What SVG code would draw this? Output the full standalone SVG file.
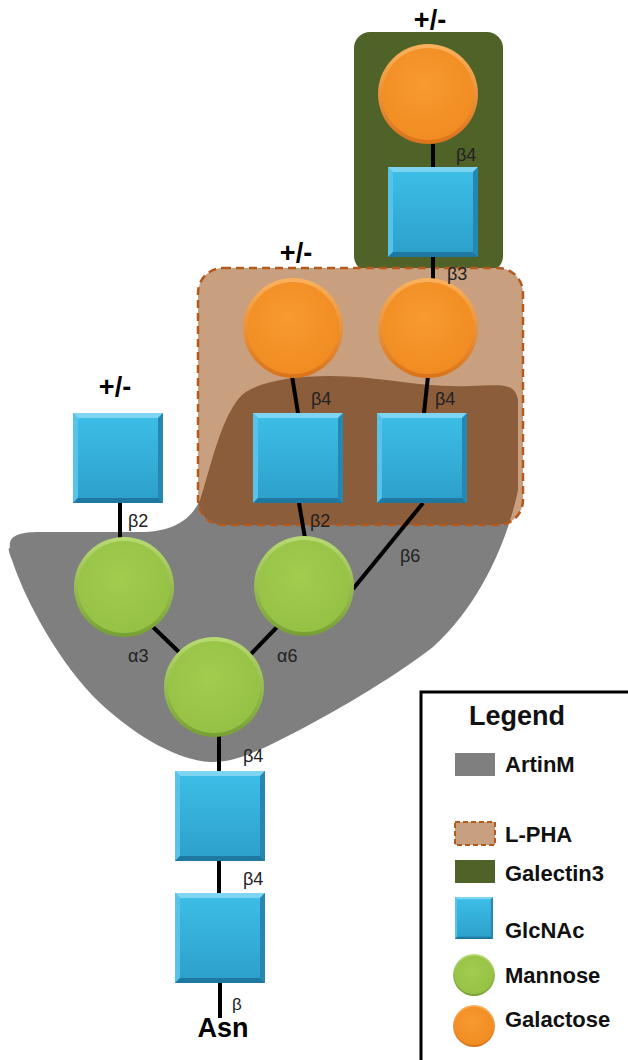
<svg xmlns="http://www.w3.org/2000/svg" xmlns:xlink="http://www.w3.org/1999/xlink" width="628" height="1060" viewBox="0 0 628 1060">
<style>
.lbl{font-family:"Liberation Sans",Arial,sans-serif;font-size:18px;fill:#222}
.pm{font-family:"Liberation Sans",Arial,sans-serif;font-size:27px;font-weight:bold;fill:#000;text-anchor:middle}
.leg{font-family:"Liberation Sans",Arial,sans-serif;font-size:22px;font-weight:bold;fill:#111}
.bond{stroke:#000;stroke-width:4;fill:none}
</style>
<defs>
<linearGradient id="gBlue" x1="0" y1="0" x2="0" y2="1">
<stop offset="0" stop-color="#3DBFE8"/><stop offset="1" stop-color="#2C9FCA"/>
</linearGradient>
<radialGradient id="gOr" cx="0.45" cy="0.4" r="0.6">
<stop offset="0" stop-color="#F89A30"/><stop offset="1" stop-color="#F08C22"/>
</radialGradient>
<linearGradient id="gOrRim" x1="0" y1="0" x2="0" y2="1">
<stop offset="0" stop-color="#FBB15C"/><stop offset="1" stop-color="#D9731A"/>
</linearGradient>
<radialGradient id="gGr" cx="0.45" cy="0.4" r="0.6">
<stop offset="0" stop-color="#A1CC4E"/><stop offset="1" stop-color="#95C145"/>
</radialGradient>
<linearGradient id="gGrRim" x1="0" y1="0" x2="0" y2="1">
<stop offset="0" stop-color="#B8DA72"/><stop offset="1" stop-color="#76A033"/>
</linearGradient>
<g id="sq">
<rect x="0" y="0" width="90" height="90" fill="url(#gBlue)"/>
<polygon points="0,0 90,0 85,5 5,5" fill="#7DD5F2"/>
<polygon points="0,0 5,5 5,85 0,90" fill="#56C4EA"/>
<polygon points="90,0 90,90 85,85 85,5" fill="#2587B2"/>
<polygon points="0,90 90,90 85,85 5,85" fill="#1E78A2"/>
</g>
<g id="gal">
<circle r="50" fill="url(#gOrRim)"/>
<circle r="46" fill="url(#gOr)"/>
</g>
<g id="man">
<circle r="50" fill="url(#gGrRim)"/>
<circle r="46" fill="url(#gGr)"/>
</g>
<path id="artinPath" d="M10,548 C8,535 20,532 40,532 L140,532 C170,532 190,522 200,500 C210,470 220,420 240,397 C255,382 290,376 330,376 C380,376 420,388 470,386 C500,385 515,382 518,400 L518,490 C510,530 485,600 433,647 C390,680 330,715 280,740 C250,755 230,763 210,762 C180,760 140,740 100,703 C60,665 25,600 12,560 C8,550 8,548 10,548 Z"/>
<clipPath id="lphaClip"><rect x="198" y="268" width="325" height="257" rx="25"/></clipPath>
</defs>

<g id="artinm">
<use xlink:href="#artinPath" fill="#7F7F7F"/>
</g>

<g id="galectin3">
<rect x="354" y="32" width="149" height="240" rx="16" fill="#4F6228"/>
</g>

<g id="lpha">
<rect x="198" y="268" width="325" height="257" rx="25" fill="#C8A07F"/>
<use xlink:href="#artinPath" fill="#8C5D3B" clip-path="url(#lphaClip)"/>
<rect x="198" y="268" width="325" height="257" rx="25" fill="none" stroke="#B35A1F" stroke-width="2.5" stroke-dasharray="8,5"/>
</g>

<g id="connectors">
<line class="bond" x1="433" y1="144" x2="433" y2="167"/>
<line class="bond" x1="433" y1="257" x2="433" y2="280"/>
<line class="bond" x1="292" y1="376" x2="298" y2="413"/>
<line class="bond" x1="428" y1="376" x2="424" y2="413"/>
<line class="bond" x1="120" y1="503" x2="120" y2="539"/>
<line class="bond" x1="299" y1="503" x2="305" y2="538"/>
<line class="bond" x1="423" y1="503" x2="353" y2="589" stroke-width="3.5"/>
<line class="bond" x1="153" y1="627" x2="181" y2="654"/>
<line class="bond" x1="277" y1="627" x2="251" y2="654"/>
<line class="bond" x1="219" y1="735" x2="219" y2="771"/>
<line class="bond" x1="219" y1="860" x2="219" y2="893"/>
<line class="bond" x1="220" y1="983" x2="220" y2="1018"/>
</g>

<g id="node-gal-top"><use xlink:href="#gal" transform="translate(428,94)"/></g>
<g id="node-glc-top"><use xlink:href="#sq" transform="translate(388,167)"/></g>
<g id="node-gal-left"><use xlink:href="#gal" transform="translate(293,328)"/></g>
<g id="node-gal-right"><use xlink:href="#gal" transform="translate(428,328)"/></g>
<g id="node-glc-left"><use xlink:href="#sq" transform="translate(253,413)"/></g>
<g id="node-glc-right"><use xlink:href="#sq" transform="translate(377,413)"/></g>
<g id="node-glc-far"><use xlink:href="#sq" transform="translate(73,413)"/></g>
<g id="node-man-left"><use xlink:href="#man" transform="translate(124,587)"/></g>
<g id="node-man-right"><use xlink:href="#man" transform="translate(304,586)"/></g>
<g id="node-man-core"><use xlink:href="#man" transform="translate(214,687)"/></g>
<g id="node-glc-core1"><use xlink:href="#sq" transform="translate(175,771)"/></g>
<g id="node-glc-core2"><use xlink:href="#sq" transform="translate(175,893)"/></g>

<g id="labels">
<text class="pm" x="430" y="29">+/-</text>
<text class="pm" x="296" y="262">+/-</text>
<text class="pm" x="115" y="396">+/-</text>
<text class="lbl" x="456" y="161">β4</text>
<text class="lbl" x="447" y="280">β3</text>
<text class="lbl" x="311" y="405">β4</text>
<text class="lbl" x="435" y="405">β4</text>
<text class="lbl" x="128" y="527">β2</text>
<text class="lbl" x="310" y="527">β2</text>
<text class="lbl" x="400" y="562">β6</text>
<text class="lbl" x="128" y="662">α3</text>
<text class="lbl" x="277" y="662">α6</text>
<text class="lbl" x="243" y="762">β4</text>
<text class="lbl" x="243" y="885">β4</text>
<text class="lbl" x="232" y="1010" style="font-size:17px">β</text>
<text class="pm" x="223" y="1037">Asn</text>
</g>

<g id="legend">
<rect x="421" y="692" width="230" height="400" fill="#fff" stroke="#000" stroke-width="3"/>
<text x="469" y="725" style="font-family:'Liberation Sans',Arial,sans-serif;font-size:27px;font-weight:bold;fill:#111">Legend</text>
<rect x="455" y="753" width="40" height="23" fill="#7F7F7F"/>
<text class="leg" x="505" y="772">ArtinM</text>
<rect x="455" y="822" width="40" height="23" fill="#C8A07F" stroke="#B35A1F" stroke-width="2" stroke-dasharray="5,3"/>
<text class="leg" x="505" y="842">L-PHA</text>
<rect x="455" y="860" width="40" height="23" fill="#4F6228"/>
<text class="leg" x="505" y="881">Galectin3</text>
<use xlink:href="#sq" transform="translate(455,897) scale(0.422,0.467)"/>
<text class="leg" x="505" y="938">GlcNAc</text>
<use xlink:href="#man" transform="translate(474,975) scale(0.42)"/>
<text class="leg" x="505" y="983">Mannose</text>
<use xlink:href="#gal" transform="translate(474,1026) scale(0.42)"/>
<text class="leg" x="505" y="1027">Galactose</text>
</g>
</svg>
